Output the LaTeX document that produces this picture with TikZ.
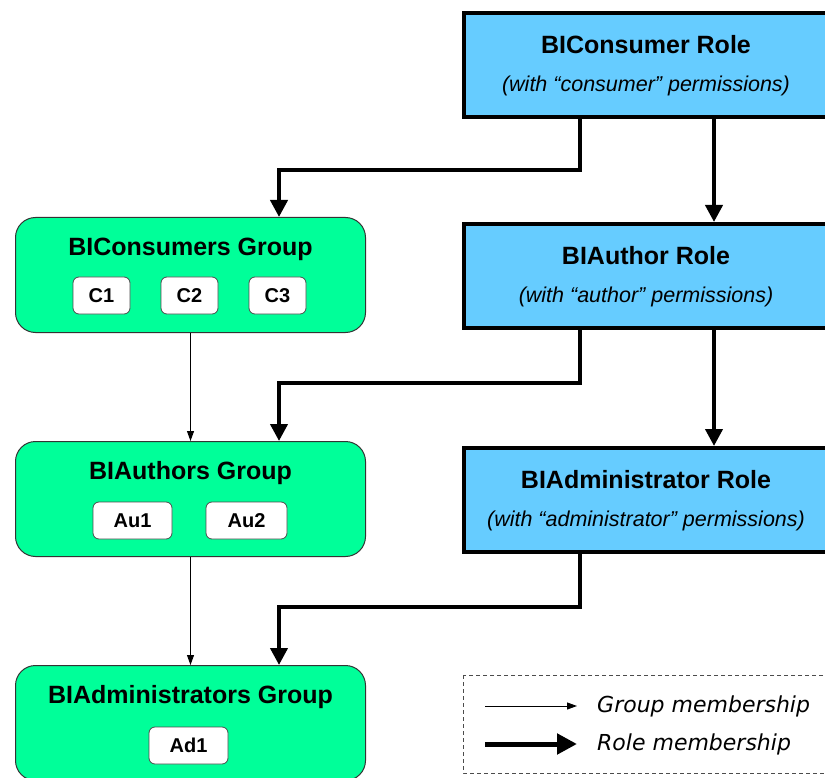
\documentclass[tikz,border=0pt]{standalone}
\usepackage{fontspec}
\setmainfont{Liberation Sans}
\newfontfamily\legendfont{DejaVu Sans}
\usetikzlibrary{calc,positioning,arrows.meta}
\definecolor{groupGreen}{RGB}{0,255,153}
\definecolor{roleBlue}{RGB}{102,204,255}

\begin{document}
\begin{tikzpicture}[x=1pt,y=-1pt,
    rolebox/.style={draw,line width=4pt,fill=roleBlue,minimum width=364pt,minimum height=104pt,inner sep=0pt},
    groupbox/.style={draw=black!80,line width=1pt,fill=groupGreen,rounded corners=20pt,minimum width=350pt,minimum height=115pt,inner sep=0pt},
    memberbox/.style={draw=black!70,line width=0.8pt,fill=white,rounded corners=6pt,minimum height=37pt,inner sep=0pt,font=\fontsize{20}{24}\selectfont\bfseries},
    titletext/.style={font=\fontsize{25}{30}\selectfont\bfseries},
    permtext/.style={font=\fontsize{21.5}{25}\selectfont\itshape},
    legendtext/.style={font=\fontsize{22}{26}\selectfont\legendfont\itshape,anchor=west,inner sep=0pt},
    rolearrow/.style={line width=4pt,-{Triangle[width=17pt,length=17pt]}},
    grouparrow/.style={line width=1pt,-{Triangle[width=7pt,length=10pt]}}]
       \useasboundingbox (0,0) rectangle (825,778);

       %角色方塊
       \foreach \v/\y/\t/\p in
       {cRole/65/BIConsumer Role/consumer,
           auRole/276/BIAuthor Role/author,
           adRole/500/BIAdministrator Role/administrator}
        {
            \node[rolebox] (\v) at (646,\y){};
            \node[titletext] (\v Title) at ([yshift=20pt]\v.center){\t};
            \node[permtext] (\v Perm) at ([yshift=-21pt]\v.center){(with “\p” permissions)};
        };

       %群組方塊
       \foreach \v/\y/\t in
       {cGroup/275/BIConsumers Group,
           auGroup/499/BIAuthors Group,
           adGroup/723/BIAdministrators Group}
        {
            \node[groupbox] (\v) at (190.5,\y){};
            \node[titletext] (\v Title) at ([yshift=26pt]\v.center){\t};
        };

       %群組成員
       \foreach \v/\x/\y/\w/\t in
       {mC1/101.5/295.5/57/C1,
           mC2/189.5/295.5/57/C2,
           mC3/277.5/295.5/57/C3,
           mAu1/132.5/520.5/79/Au1,
           mAu2/246.5/520.5/81/Au2,
           mAd1/188.5/745.5/79/Ad1}
        {
            \node[memberbox,minimum width=\w pt] (\v) at (\x,\y){\t};
        };

       %角色成員關係
       \draw[rolearrow] ([xshift=-66pt]cRole.south) -- ++(0,51) -| ([xshift=88.5pt]cGroup.north);
       \draw[rolearrow] ([xshift=-66pt]auRole.south) -- ++(0,53) -| ([xshift=88.5pt]auGroup.north);
       \draw[rolearrow] ([xshift=-66pt]adRole.south) -- ++(0,53) -| ([xshift=88.5pt]adGroup.north);
       \draw[rolearrow] ([xshift=68pt]cRole.south) -- ([xshift=68pt]auRole.north);
       \draw[rolearrow] ([xshift=68pt]auRole.south) -- ([xshift=68pt]adRole.north);

       %群組成員關係
       \draw[grouparrow] (cGroup.south) -- (auGroup.north);
       \draw[grouparrow] (auGroup.south) -- (adGroup.north);

       %圖例
       \draw[black!70,line width=1pt,dash pattern=on 4pt off 3pt] (463,675) rectangle (832,773);
       \coordinate (cGroupKeyStart) at (485,706);
       \coordinate (cGroupKeyEnd) at (577,706);
       \coordinate (cRoleKeyStart) at (485,744);
       \coordinate (cRoleKeyEnd) at (577,744);
       \node[legendtext] (groupKey) at (597,706){Group membership};
       \node[legendtext] (roleKey) at (597,744){Role membership};
       \draw[line width=1pt,-{Triangle[width=7pt,length=10pt]}] (cGroupKeyStart) -- (cGroupKeyEnd);
       \draw[line width=5pt,-{Triangle[width=20pt,length=20pt]}] (cRoleKeyStart) -- (cRoleKeyEnd);
        %
        \end{tikzpicture}
\end{document}
